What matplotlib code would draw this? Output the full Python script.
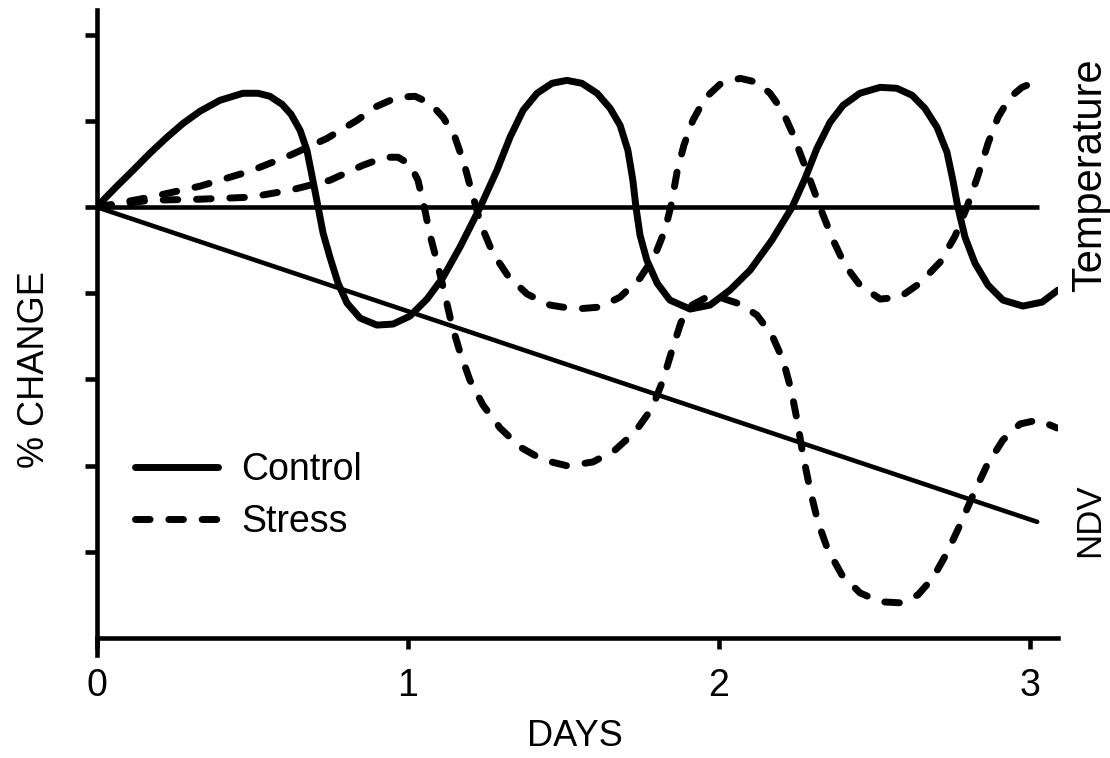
import matplotlib
matplotlib.use("Agg")
import matplotlib.pyplot as plt

plt.rcParams['font.family'] = ['Liberation Sans', 'DejaVu Sans']

# ---- data (days, % change in tick units) ----
temp_control_x = [0, 0.026, 0.064, 0.116, 0.170, 0.225, 0.277, 0.331, 0.395, 0.469, 0.518,
                  0.556, 0.595, 0.624, 0.653, 0.675, 0.691, 0.711, 0.727, 0.749, 0.775,
                  0.804, 0.846, 0.900, 0.952, 1.006, 1.061, 1.113, 1.167, 1.232, 1.286,
                  1.328, 1.370, 1.415, 1.463, 1.511, 1.559, 1.608, 1.650, 1.682, 1.707,
                  1.723, 1.733, 1.746, 1.768, 1.801, 1.842, 1.907, 1.971, 2.035, 2.100,
                  2.170, 2.235, 2.277, 2.315, 2.357, 2.399, 2.453, 2.518, 2.572, 2.621,
                  2.662, 2.701, 2.733, 2.752, 2.768, 2.791, 2.823, 2.865, 2.913, 2.977,
                  3.039, 3.090]
temp_control_y = [0, 0.104, 0.244, 0.429, 0.626, 0.812, 0.974, 1.114, 1.241, 1.323, 1.323,
                  1.288, 1.195, 1.079, 0.893, 0.661, 0.371, 0, -0.302, -0.580, -0.882,
                  -1.114, -1.288, -1.369, -1.357, -1.265, -1.067, -0.812, -0.464, 0, 0.429,
                  0.812, 1.125, 1.323, 1.439, 1.473, 1.439, 1.323, 1.148, 0.951, 0.661,
                  0.313, 0, -0.325, -0.615, -0.882, -1.079, -1.183, -1.137, -0.963, -0.731,
                  -0.383, 0, 0.336, 0.684, 0.986, 1.183, 1.323, 1.392, 1.381, 1.299,
                  1.148, 0.928, 0.638, 0.313, 0, -0.348, -0.650, -0.905, -1.079, -1.148,
                  -1.102, -0.963]

temp_stress_x = [0, 0.170, 0.331, 0.492, 0.621, 0.740, 0.836, 0.900, 0.965, 1.023, 1.071,
                 1.113, 1.151, 1.180, 1.206, 1.235, 1.273, 1.322, 1.383, 1.457, 1.537,
                 1.617, 1.682, 1.746, 1.794, 1.826, 1.846, 1.865, 1.887, 1.916, 1.955,
                 2.003, 2.068, 2.122, 2.164, 2.203, 2.235, 2.267, 2.299, 2.331, 2.367,
                 2.405, 2.453, 2.518, 2.582, 2.646, 2.711, 2.759, 2.797, 2.833, 2.865,
                 2.897, 2.936, 2.974, 3.006]
temp_stress_y = [0, 0.116, 0.244, 0.418, 0.603, 0.800, 1.009, 1.172, 1.276, 1.288, 1.206,
                 1.044, 0.812, 0.510, 0.162, -0.209, -0.534, -0.800, -1.009, -1.137, -1.183,
                 -1.160, -1.044, -0.824, -0.557, -0.267, 0.023, 0.406, 0.719, 1.009, 1.265,
                 1.427, 1.497, 1.450, 1.323, 1.125, 0.870, 0.568, 0.255, -0.058, -0.383,
                 -0.673, -0.905, -1.067, -1.044, -0.882, -0.638, -0.336, 0, 0.371, 0.742,
                 1.044, 1.276, 1.392, 1.439]

ndv_control_x = [0, 3.023]
ndv_control_y = [0, -3.654]

ndv_stress_x = [0, 0.170, 0.331, 0.492, 0.621, 0.749, 0.855, 0.926, 0.968, 1.006, 1.032,
                1.051, 1.071, 1.096, 1.119, 1.141, 1.167, 1.199, 1.241, 1.296, 1.360,
                1.434, 1.514, 1.595, 1.666, 1.730, 1.785, 1.820, 1.849, 1.878, 1.913,
                1.955, 2.010, 2.068, 2.122, 2.170, 2.206, 2.232, 2.251, 2.270, 2.293,
                2.318, 2.350, 2.395, 2.453, 2.518, 2.582, 2.640, 2.688, 2.733, 2.775,
                2.817, 2.862, 2.913, 2.968, 3.026, 3.087]
ndv_stress_y = [0, 0.081, 0.093, 0.116, 0.197, 0.313, 0.487, 0.580, 0.580, 0.499, 0.313,
                0.023, -0.325, -0.673, -1.021, -1.369, -1.682, -2.007, -2.297, -2.564, -2.784,
                -2.935, -3.005, -2.958, -2.819, -2.610, -2.332, -2.007, -1.659, -1.334, -1.137,
                -1.056, -1.056, -1.125, -1.253, -1.485, -1.775, -2.123, -2.471, -2.877, -3.283,
                -3.654, -3.979, -4.269, -4.478, -4.582, -4.594, -4.501, -4.304, -4.014, -3.689,
                -3.341, -2.993, -2.703, -2.517, -2.471, -2.564]

baseline_x = [0, 3.03]
baseline_y = [0, 0]

x_ticks = [0, 1, 2, 3]
x_tick_labels = ["0", "1", "2", "3"]
y_ticks = [2, 1, 0, -1, -2, -3, -4]

# ---- figure ----
fig = plt.figure(figsize=(11.1, 7.58), dpi=100)
ax = fig.add_axes([97/1110, 103/758, 961/1110, 645/758])
ax.set_xlim(0, 3.09)
ax.set_ylim(-5.2, 2.29)

lw_curve = 5.0
lw_line = 3.3
dash = (2.1, 2.7)

ax.plot(baseline_x, baseline_y, color='black', lw=lw_line, solid_capstyle='butt')
ax.plot(ndv_control_x, ndv_control_y, color='black', lw=lw_line, solid_capstyle='round')
ctrl, = ax.plot(temp_control_x, temp_control_y, color='black', lw=lw_curve,
                solid_joinstyle='round', solid_capstyle='round', label='Control')
strs, = ax.plot(temp_stress_x, temp_stress_y, color='black', lw=lw_curve,
                linestyle=(0, dash), dash_capstyle='round', dash_joinstyle='round',
                label='Stress')
ax.plot(ndv_stress_x, ndv_stress_y, color='black', lw=lw_curve,
        linestyle=(0, dash), dash_capstyle='round', dash_joinstyle='round')

# spines
for s in ['top', 'right']:
    ax.spines[s].set_visible(False)
ax.spines['left'].set_linewidth(3.3)
ax.spines['bottom'].set_linewidth(3.3)
ax.spines['bottom'].set_position(('data', -5))
ax.spines['bottom'].set_bounds(0, 3.09)

ax.set_yticks(y_ticks)
ax.set_yticklabels([])
ax.tick_params(axis='y', direction='out', length=9, width=3.3)
ax.set_xticks(x_ticks)
ax.set_xticklabels(x_tick_labels, fontsize=27)
ax.tick_params(axis='x', direction='out', length=8, width=3.3, pad=14)

leg = ax.legend(handles=[ctrl, strs], loc='upper left',
                bbox_to_anchor=(38/961, (655-452)/645),
                frameon=False, fontsize=27, handlelength=2.2, handletextpad=0.64,
                labelspacing=0.42, borderaxespad=0, borderpad=0)

fig.text(35/1110, 1 - 370/758, "% CHANGE", rotation=90, fontsize=26,
         ha='center', va='center')
fig.text(575/1110, 1 - 737/758, "DAYS", fontsize=26, ha='center', va='center')
fig.text(1090/1110, 1 - 175/758, "Temperature", rotation=90, fontsize=30,
         ha='center', va='center')
fig.text(1090/1110, 1 - 520/758, "NDV", rotation=90, fontsize=25,
         ha='center', va='center')

fig.savefig("out.png", dpi=100)
